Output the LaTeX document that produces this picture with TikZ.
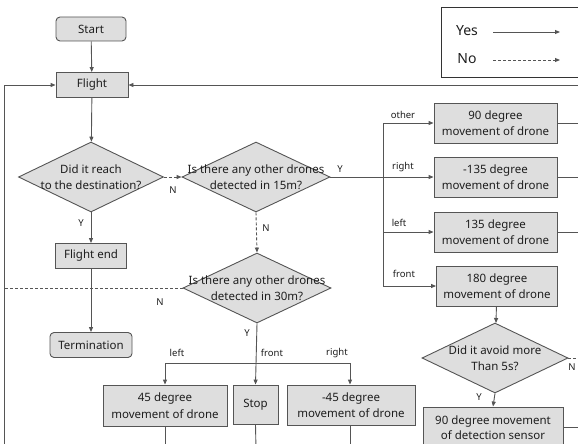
\documentclass[tikz,border=0pt]{standalone}
\usepackage{fontspec}
\setmainfont{Noto Sans}
\usetikzlibrary{shapes.geometric,arrows.meta}
\definecolor{lnc}{HTML}{555555}
\definecolor{flc}{HTML}{DEDEDE}
\definecolor{txc}{HTML}{1E1E1E}
\begin{document}
\begin{tikzpicture}[x=1pt,y=-1pt,
  box/.style={draw=lnc, fill=flc, line width=0.9pt, inner sep=0pt, align=center, text=txc, font=\fontsize{11.5}{16.5}\selectfont},
  rbox/.style={box, rounded corners=4pt},
  dia/.style={diamond, draw=lnc, fill=flc, line width=0.9pt, inner sep=0pt},
  dtext/.style={align=center, text=txc, font=\fontsize{11.5}{16.5}\selectfont, inner sep=0pt},
  arr/.style={draw=lnc, line width=0.9pt, -{Triangle[length=5pt,width=4pt]}},
  plain/.style={draw=lnc, line width=0.9pt},
  dsh/.style={draw=lnc, line width=0.9pt, dash pattern=on 3pt off 2pt},
  darr/.style={dsh, -{Triangle[length=5pt,width=4pt]}},
  lab/.style={font=\fontsize{9.5}{11}\selectfont, inner sep=0pt, text=txc},
]
\useasboundingbox (0,0) rectangle (578,444);
\clip (0,0) rectangle (578,444);

% legend
\node[draw=black!80, line width=0.9pt, minimum width=150pt, minimum height=70pt, anchor=north west, inner sep=0pt] (legend) at (441,7) {};
\node[font=\fontsize{14}{16}\selectfont, text=txc, inner sep=0pt] (yes) at (467,31) {Yes};
\node[font=\fontsize{14}{16}\selectfont, text=txc, inner sep=0pt] (no) at (467,59) {No};
\coordinate (ya) at (493,32); \coordinate (yb) at (560,32);
\coordinate (na) at (493,60); \coordinate (nb) at (560,60);
\draw[arr] (ya) -- (yb);
\draw[darr] (na) -- (nb);

% nodes
\node[rbox, minimum width=70pt, minimum height=24pt] (start) at (91,29) {Start};
\node[box, minimum width=72pt, minimum height=25pt] (flight) at (92,85) {Flight};
\node[dia, minimum width=145pt, minimum height=70pt] (d1) at (91,177) {};
\node[dtext] (d1t) at (d1) {Did it reach\\to the destination?};
\node[box, minimum width=71pt, minimum height=25pt] (fend) at (91,256) {Flight end};
\node[rbox, minimum width=82pt, minimum height=25pt] (term) at (91,345) {Termination};

\node[dia, minimum width=148pt, minimum height=70pt] (d2) at (256,177) {};
\node[dtext] (d2t) at (d2) {Is there any other drones\\detected in 15m?};
\node[dia, minimum width=148pt, minimum height=70pt] (d4) at (257,288) {};
\node[dtext] (d4t) at (d4) {Is there any other drones\\detected in 30m?};

\node[box, minimum width=123pt, minimum height=40pt] (b90) at (495.5,123) {90 degree\\movement of drone};
\node[box, minimum width=123pt, minimum height=40pt] (bm135) at (495.5,177) {-135 degree\\movement of drone};
\node[box, minimum width=123pt, minimum height=40pt] (b135) at (495.5,232) {135 degree\\movement of drone};
\node[box, minimum width=121pt, minimum height=40pt] (b180) at (497,286) {180 degree\\movement of drone};
\node[dia, minimum width=146pt, minimum height=70pt] (d3) at (495,358) {};
\node[dtext] (d3t) at (d3) {Did it avoid more\\Than 5s?};
\node[box, minimum width=140pt, minimum height=46pt, text depth=0pt] (bsens) at (493,430) {};
\node[dtext, font=\fontsize{11.5}{15.5}\selectfont] (bsenst) at (493,427.5) {90 degree movement\\of detection sensor};

\node[box, minimum width=124pt, minimum height=41pt] (b45) at (165,405.5) {45 degree\\movement of drone};
\node[box, minimum width=45pt, minimum height=39pt] (stop) at (255.5,404.5) {Stop};
\node[box, minimum width=128pt, minimum height=40pt] (bm45) at (351,405) {-45 degree\\movement of drone};

% coordinates for free ends
\coordinate (lb) at (4,450);
\coordinate (lt) at (4,85);
\coordinate (rt) at (585,85);
\coordinate (s1) at (383,123);
\coordinate (s2) at (383,177);
\coordinate (s3) at (383,232);
\coordinate (s4) at (383,286);
\coordinate (h1) at (165,363);
\coordinate (h2) at (257,363);
\coordinate (h3) at (350,363);
\coordinate (dl) at (4,288);
\coordinate (e90) at (585,123);
\coordinate (e135m) at (585,177);
\coordinate (e135) at (585,232);
\coordinate (ed3) at (585,358);
\coordinate (esens) at (585,427);
\coordinate (bot1) at (165,450);
\coordinate (bot2) at (256,450);
\coordinate (bot3) at (350,450);

% connectors
\draw[arr] (start) -- (flight);
\draw[arr] (flight) -- (d1);
\draw[arr] (d1) -- (fend);
\draw[arr] (fend) -- (term);
\draw[darr] (d1.east) -- (d2.west);
\draw[darr] (d2.south) -- (d4.north);
\draw[dsh] (d4.west) -- (dl);
\draw[arr] (lb) -- (lt) -- (flight.west);
\draw[arr] (rt) -- (flight.east);

\draw[plain] (d2.east) -- (s2);
\draw[plain] (s1) -- (s4);
\draw[arr] (s1) -- (b90.west);
\draw[arr] (s2) -- (bm135.west);
\draw[arr] (s3) -- (b135.west);
\draw[arr] (s4) -- (b180.west);
\draw[plain] (b90.east) -- (e90);
\draw[plain] (bm135.east) -- (e135m);
\draw[plain] (b135.east) -- (e135);
\draw[arr] (b180) -- (d3);
\draw[arr] (d3.south) -- (bsens.north);
\draw[dsh] (d3.east) -- (ed3);
\draw[plain] (bsens.east |- esens) -- (esens);

\draw[arr] (d4.south) -- (stop.north);
\draw[plain] (h1) -- (h3);
\draw[arr] (h1) -- (b45.north);
\draw[arr] (h3) -- (bm45.north -| h3);
\draw[plain] (b45.south) -- (bot1);
\draw[plain] (stop.south) -- (bot2);
\draw[plain] (bm45.south -| h3) -- (bot3);

% labels
\node[lab] (l1) at (81,223) {Y};
\node[lab] (l2) at (173,190) {N};
\node[lab] (l3) at (340,169) {Y};
\node[lab] (l4) at (266,228) {N};
\node[lab] (l5) at (160,302) {N};
\node[lab] (l6) at (247,333) {Y};
\node[lab] (l7) at (177,353) {left};
\node[lab] (l8) at (272,353) {front};
\node[lab] (l9) at (337,353) {right};
\node[lab] (l10) at (403,115) {other};
\node[lab] (l11) at (403,167) {right};
\node[lab] (l12) at (399,223) {left};
\node[lab] (l13) at (404,274) {front};
\node[lab] (l14) at (479,397) {Y};
\node[lab] (l15) at (572,367) {N};
\end{tikzpicture}
\end{document}
